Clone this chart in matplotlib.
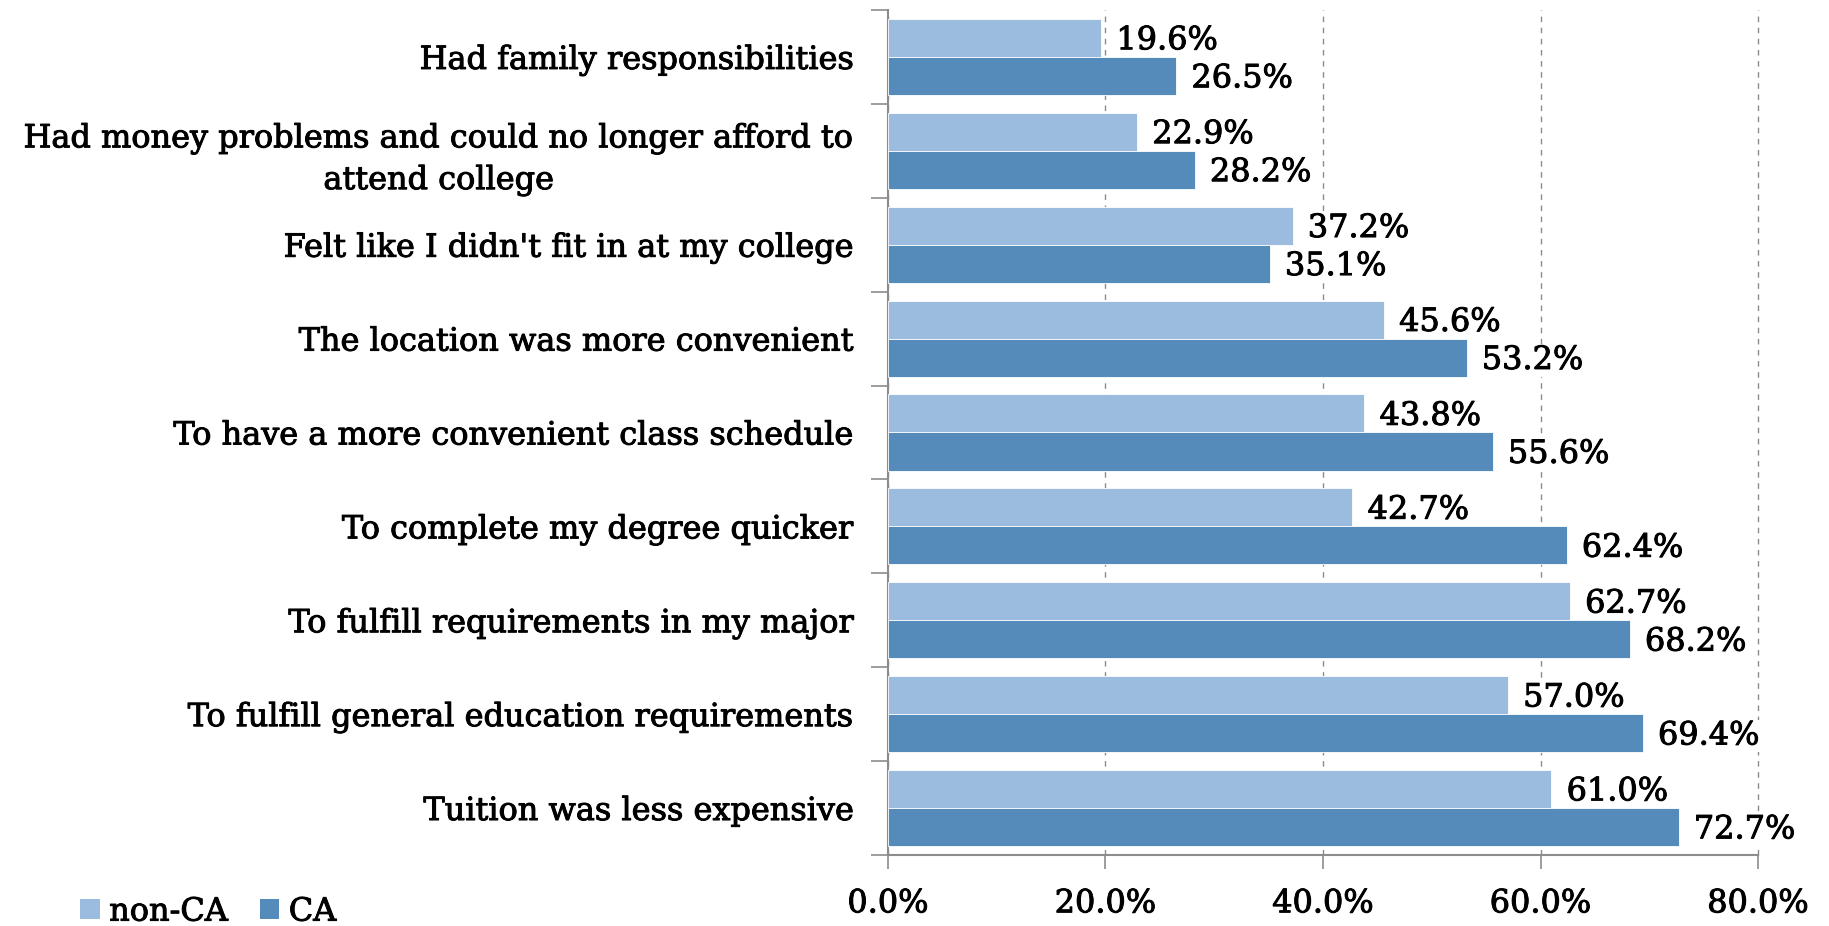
import numpy as np
import matplotlib.pyplot as plt
import matplotlib.patheffects as pe
from matplotlib.patches import Patch

# --- Survey data ---
reasons = [
    'Had family responsibilities',
    'Had money problems and could no longer afford to\nattend college',
    "Felt like I didn't fit in at my college",
    'The location was more convenient',
    'To have a more convenient class schedule',
    'To complete my degree quicker',
    'To fulfill requirements in my major',
    'To fulfill general education requirements',
    'Tuition was less expensive',
]
non_ca = [19.6, 22.9, 37.2, 45.6, 43.8, 42.7, 62.7, 57.0, 61.0]
ca = [26.5, 28.2, 35.1, 53.2, 55.6, 62.4, 68.2, 69.4, 72.7]
x_ticks = [0, 20, 40, 60, 80]

light = '#9BBBDF'
dark = '#558BBA'
axis_gray = '#8C8C8C'
fs = 23
heavy = [pe.withStroke(linewidth=0.7, foreground='black')]

plt.rcParams['font.family'] = ['DejaVu Serif']

fig = plt.figure(figsize=(18.29, 9.26), dpi=100)
ax = fig.add_axes([0.4855, 0.0767, 0.4757, 0.9125])

y = np.arange(len(reasons))
h = 0.405
b1 = ax.barh(y - h / 2, non_ca, height=h, color=light, edgecolor='white', linewidth=0.6, zorder=3)
b2 = ax.barh(y + h / 2, ca, height=h, color=dark, edgecolor='white', linewidth=0.6, zorder=3)

for bars, vals in ((b1, non_ca), (b2, ca)):
    for bar, v in zip(bars, vals):
        ax.text(v + 1.4, bar.get_y() + bar.get_height() / 2 + 0.03, f'{v:.1f}%',
                va='center', ha='left', fontsize=fs, zorder=4, path_effects=heavy,
                bbox=dict(facecolor='white', edgecolor='none', pad=0.5))

ax.set_xlim(0, 80)
ax.set_ylim(len(reasons) - 0.5, -0.5)
ax.set_xticks(x_ticks)
ax.set_xticklabels([f'{t:.1f}%' for t in x_ticks], fontsize=fs)
ax.set_yticks(y)
ax.set_yticklabels(reasons, fontsize=fs, linespacing=1.45)
for lbl in ax.get_yticklabels():
    lbl.set_multialignment('center')
for lbl in ax.get_yticklabels() + ax.get_xticklabels():
    lbl.set_path_effects(heavy)
ax.set_yticks(np.arange(-0.5, len(reasons), 1.0), minor=True)
ax.tick_params(axis='y', which='major', length=0, pad=24)
ax.tick_params(axis='y', which='minor', length=12, color=axis_gray, width=1.2)
ax.tick_params(axis='x', length=10, color=axis_gray, width=1.2, pad=14)

ax.xaxis.grid(True, linestyle=(0, (4, 4)), color='#8C8C8C', linewidth=1.0, zorder=0)
for gl in ax.get_xgridlines():
    gl.set_clip_on(False)
for side in ('top', 'right'):
    ax.spines[side].set_visible(False)
for side in ('left', 'bottom'):
    ax.spines[side].set_color(axis_gray)
    ax.spines[side].set_linewidth(1.5)

handles = [Patch(facecolor=light, label='non-CA'), Patch(facecolor=dark, label='CA')]
leg = fig.legend(handles=handles, loc='center left', bbox_to_anchor=(0.037, 0.015), ncol=2,
                 frameon=False, fontsize=fs, handlelength=0.6, handleheight=0.6,
                 handletextpad=0.3, columnspacing=1.0, borderaxespad=0)
for t in leg.get_texts():
    t.set_path_effects(heavy)

fig.savefig('out.png', dpi=100)
